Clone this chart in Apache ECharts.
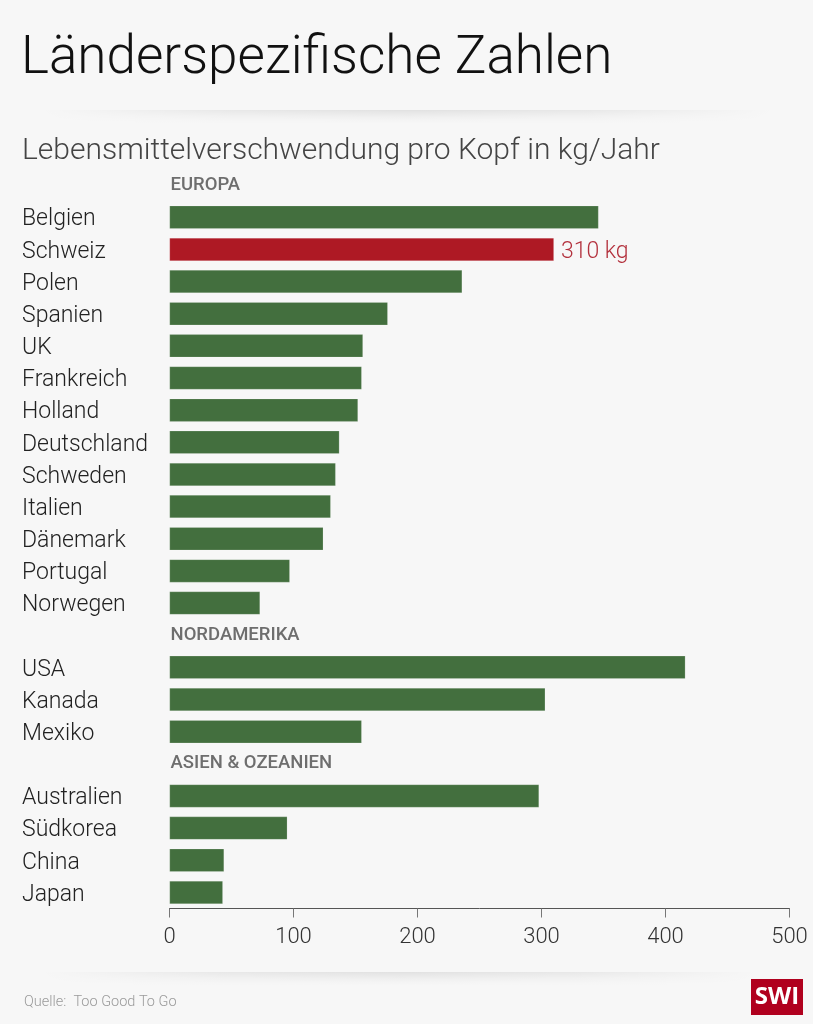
<!DOCTYPE html>
<html>
<head>
<meta charset="utf-8">
<script src="https://cdn.jsdelivr.net/npm/echarts@6/dist/echarts.min.js"></script>
<style>
html,body{margin:0;padding:0;background:#f7f7f7;}
#chart{width:813px;height:1024px;}
</style>
</head>
<body>
<div id="chart"></div>
<script>
// ---- data ----
const groupNames = ['EUROPA', 'NORDAMERIKA', 'ASIEN & OZEANIEN'];
const europeCountries = ['Belgien','Schweiz','Polen','Spanien','UK','Frankreich','Holland','Deutschland','Schweden','Italien','Dänemark','Portugal','Norwegen'];
const europeValues = [346, 310, 236, 176, 156, 155, 152, 137, 134, 130, 124, 97, 73];
const northAmericaCountries = ['USA','Kanada','Mexiko'];
const northAmericaValues = [416, 303, 155];
const asiaOceaniaCountries = ['Australien','Südkorea','China','Japan'];
const asiaOceaniaValues = [298, 95, 44, 43];
const highlightCountry = 'Schweiz';
const xTicks = [0, 100, 200, 300, 400, 500];

const groups = [
  {name: groupNames[0], countries: europeCountries, values: europeValues},
  {name: groupNames[1], countries: northAmericaCountries, values: northAmericaValues},
  {name: groupNames[2], countries: asiaOceaniaCountries, values: asiaOceaniaValues}
];

const FONT = 'Roboto';
const GREEN = '#436f3e';
const RED = '#ae1924';

const categories = [];
const isHeader = [];
const barData = [];
groups.forEach(g => {
  categories.push(g.name);
  isHeader.push(true);
  barData.push({
    value: 0,
    itemStyle: {color: 'rgba(0,0,0,0)', borderWidth: 0},
    label: {
      show: true, position: 'right', distance: 1,
      formatter: g.name,
      color: '#6e6e6e', fontFamily: FONT, fontWeight: 500, fontSize: 18.5
    }
  });
  g.countries.forEach((c, i) => {
    categories.push(c);
    isHeader.push(false);
    const item = {value: g.values[i], itemStyle: {color: GREEN}};
    if (c === highlightCountry) {
      item.itemStyle = {color: RED};
      item.label = {
        show: true, position: 'right', distance: 7,
        formatter: p => '{v|' + p.value + ' kg}',
        rich: {v: {color: '#b3313d', fontFamily: FONT, fontWeight: 300, fontSize: 23, padding: [5, 0, 0, 0]}}
      };
    }
    barData.push(item);
  });
});

const chart = echarts.init(document.getElementById('chart'), null, {renderer: 'canvas'});

// soft shadow separator made of thin horizontally-faded strips
function sep(y, x1, x2) {
  const els = [];
  const n = 14;
  for (let k = 0; k < n; k++) {
    const a = 0.085 * Math.pow(1 - k / n, 1.6);
    els.push({
      type: 'rect',
      shape: {x: x1, y: y + k, width: x2 - x1, height: 1},
      style: {
        fill: {
          type: 'linear', x: 0, y: 0, x2: 1, y2: 0,
          colorStops: [
            {offset: 0, color: 'rgba(0,0,0,0)'},
            {offset: 0.25, color: 'rgba(0,0,0,' + (a * 0.7) + ')'},
            {offset: 0.5, color: 'rgba(0,0,0,' + a + ')'},
            {offset: 0.75, color: 'rgba(0,0,0,' + (a * 0.7) + ')'},
            {offset: 1, color: 'rgba(0,0,0,0)'}
          ]
        }
      },
      silent: true,
      z: -1
    });
  }
  return els;
}

chart.setOption({
  backgroundColor: '#f7f7f7',
  animation: false,
  title: [
    {
      text: 'Länderspezifische Zahlen',
      left: 16, top: 28,
      textStyle: {fontFamily: FONT, fontWeight: 300, fontSize: 53, color: '#111'}
    },
    {
      text: 'Lebensmittelverschwendung pro Kopf in kg/Jahr',
      left: 17, top: 131,
      textStyle: {fontFamily: FONT, fontWeight: 300, fontSize: 30, color: '#444'}
    },
    {
      text: 'Quelle:  Too Good To Go',
      left: 19, top: 990,
      textStyle: {fontFamily: FONT, fontWeight: 300, fontSize: 14.5, color: '#9a9a9a'}
    }
  ],
  graphic: [
    ...sep(110, 40, 775),
    ...sep(972, 40, 760),
    {
      type: 'group',
      left: 751, top: 979,
      children: [
        {type: 'rect', shape: {x: 0, y: 0, width: 52, height: 36}, style: {fill: '#b0001e'}},
        {type: 'text', x: 26, y: 18, style: {text: 'SWI', fill: '#fff', font: 'bold 24px "Open Sans"', align: 'center', verticalAlign: 'middle'}}
      ]
    }
  ],
  grid: {left: 169.5, right: 23.5, top: 169, bottom: 1024 - 908.5, containLabel: false},
  xAxis: {
    type: 'value',
    min: xTicks[0], max: xTicks[xTicks.length - 1], interval: xTicks[1] - xTicks[0],
    axisLine: {show: true, lineStyle: {color: '#555', width: 1}},
    axisTick: {show: true, length: 9, lineStyle: {color: '#777', width: 1}},
    splitLine: {show: false},
    axisLabel: {fontFamily: FONT, fontWeight: 300, fontSize: 22, color: '#333', margin: 18}
  },
  yAxis: {
    type: 'category',
    data: categories,
    inverse: true,
    axisLine: {show: false},
    axisTick: {show: false},
    axisLabel: {
      align: 'left', margin: 147.5,
      formatter: (v, i) => isHeader[i] ? '' : '{c|' + v + '}',
      rich: {c: {fontFamily: FONT, fontWeight: 300, fontSize: 23, color: '#222', padding: [5, 0, 0, 0]}}
    }
  },
  series: [{
    type: 'bar',
    data: barData,
    barWidth: 23,
    itemStyle: {borderColor: 'rgba(255,255,255,0.35)', borderWidth: 0.5}
  }]
});
</script>
</body>
</html>
